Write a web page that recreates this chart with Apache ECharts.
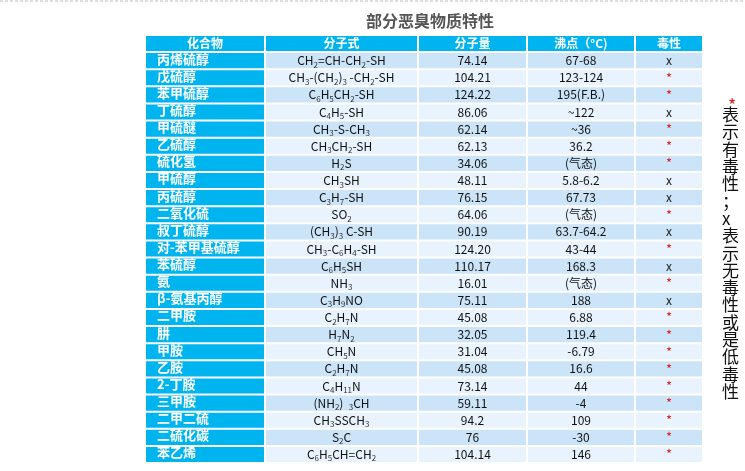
<!DOCTYPE html><html><head><meta charset="utf-8"><script src="https://cdn.jsdelivr.net/npm/echarts@6/dist/echarts.min.js"></script>
<style>html,body{margin:0;padding:0;background:#fff}#c{width:745px;height:471px}</style></head><body><div id="c"></div><script>
const headers=['化合物','分子式','分子量','沸点（°C)','毒性'];
const names=['丙烯硫醇','戊硫醇','苯甲硫醇','丁硫醇','甲硫醚','乙硫醇','硫化氢','甲硫醇','丙硫醇','二氧化硫','叔丁硫醇','对-苯甲基硫醇','苯硫醇','氨','β-氨基丙醇','二甲胺','肼','甲胺','乙胺','2-丁胺','三甲胺','二甲二硫','二硫化碳','苯乙烯'];
const formulas=['CH_2=CH-CH_2-SH','CH_3-(CH_2)_3 -CH_2-SH','C_6H_5CH_2-SH','C_4H_5-SH','CH_3-S-CH_3','CH_3CH_2-SH','H_2S','CH_3SH','C_3H_7-SH','SO_2','(CH_3)_3 C-SH','CH_3-C_6H_4-SH','C_6H_5SH','NH_3','C_3H_9NO','C_2H_7N','H_7N_2','CH_5N','C_2H_7N','C_4H_11N','(NH_2)  _3CH','CH_3SSCH_3','S_2C','C_6H_5CH=CH_2'];
const weights=['74.14','104.21','124.22','86.06','62.14','62.13','34.06','48.11','76.15','64.06','90.19','124.20','110.17','16.01','75.11','45.08','32.05','31.04','45.08','73.14','59.11','94.2','76','104.14'];
const boiling=['67-68','123-124','195(F.B.)','~122','~36','36.2','(气态)','5.8-6.2','67.73','(气态)','63.7-64.2','43-44','168.3','(气态)','188','6.88','119.4','-6.79','16.6','44','-4','109','-30','146'];
const toxicity=['x','*','*','x','*','*','*','x','x','*','x','*','x','*','x','*','*','*','*','*','*','*','*','*'];
const colEdges=[0,120,273,382,490,558];
const rows=['H'].concat(names.map((n,i)=>'r'+i));
function fmt(s){return s.replace(/_(\d+)/g,(m,d)=>'{s|'+d+'}').replace(/([^{}|]+)(?=\{|$)/g,(m)=>m);}
function rich(s){// split into normal/sub segments
  let out='',re=/_(\d+)/g,last=0,m;
  while((m=re.exec(s))){ if(m.index>last) out+='{n|'+s.slice(last,m.index)+'}'; out+='{s|'+m[1]+'}'; last=re.lastIndex;}
  if(last<s.length) out+='{n|'+s.slice(last)+'}'; return out;}
const data=[];
headers.forEach((h,c)=>data.push([c,0,h,'h']));
names.forEach((n,i)=>{
  data.push([0,i+1,n,'name']);
  data.push([1,i+1,formulas[i],'f']);
  data.push([2,i+1,weights[i],'t']);
  data.push([3,i+1,boiling[i],'t']);
  data.push([4,i+1,toxicity[i],'tox']);
});
const chart=echarts.init(document.getElementById('c'));
chart.setOption({
  animation:false,
  title:{text:'部分恶臭物质特性',left:425,top:8,textAlign:'center',textStyle:{fontFamily:'Noto Sans CJK SC',fontSize:16,fontWeight:'bold',color:'#555'}},
  grid:{left:145,right:42,top:35,bottom:8},
  xAxis:{type:'value',min:0,max:558,show:false},
  yAxis:{type:'category',data:rows,inverse:true,show:false},
  graphic:[
    {type:'line',shape:{x1:0,y1:1,x2:745,y2:1},style:{stroke:'#bbb',lineDash:[3,2],lineWidth:1}},
    {type:'text',left:728,top:96,style:{text:'*',fill:'#e02020',font:'18px "Noto Sans CJK SC"'}},
    {type:'text',left:722,top:106,style:{text:'表示有毒性；x表示无毒性或是低毒性'.split('').join('\n'),fill:'#111',font:'17px "Noto Sans CJK SC"',lineHeight:17.3}}
  ],
  series:[{type:'custom',data:data,encode:{x:0,y:1},
    renderItem:function(params,api){
      const c=api.value(0),r=api.value(1),d=data[params.dataIndex];
      const x0=api.coord([colEdges[c],r])[0],x1=api.coord([colEdges[c+1],r])[0];
      const sz=api.size([0,1]);const h=sz[1];const yc=api.coord([0,r])[1];
      const y0=yc-h/2;
      let fill;
      if(d[3]==='h'||d[3]==='name') fill='#00B4F0';
      else fill=(r%2===1)?'#CCE4F8':'#E8F3FD';
      const kids=[{type:'rect',shape:{x:x0+1,y:y0+1,width:x1-x0-2,height:h-2},style:{fill:fill}}];
      const base={fontFamily:'Noto Sans CJK SC',fontSize:12};
      if(d[3]==='h'){
        kids.push({type:'text',style:Object.assign({},base,{text:d[2],x:(x0+x1)/2,y:yc,align:'center',verticalAlign:'middle',fill:'#fff',fontWeight:'bold'})});
      }else if(d[3]==='name'){
        kids.push({type:'text',style:Object.assign({},base,{text:d[2],x:x0+12,y:yc-2,align:'left',verticalAlign:'middle',fill:'#fff',fontWeight:'bold',fontSize:13})});
      }else if(d[3]==='f'){
        kids.push({type:'text',style:{text:rich(d[2]),x:(x0+x1)/2,y:yc,align:'center',verticalAlign:'middle',
          rich:{n:{fontFamily:'Noto Sans CJK SC',fontSize:12,fill:'#111',lineHeight:16,verticalAlign:'middle'},
                s:{fontFamily:'Noto Sans CJK SC',fontSize:8,fill:'#333',lineHeight:16,verticalAlign:'bottom',padding:[6,0,0,0]}}}});
      }else if(d[3]==='tox'){
        kids.push({type:'text',style:Object.assign({},base,{text:d[2],x:(x0+x1)/2,y:yc,align:'center',verticalAlign:'middle',fill:d[2]==='*'?'#e02020':'#222',fontSize:d[2]==='*'?13:12})});
      }else{
        kids.push({type:'text',style:Object.assign({},base,{text:d[2],x:(x0+x1)/2,y:yc,align:'center',verticalAlign:'middle',fill:'#111'})});
      }
      return {type:'group',children:kids};
    }}]
});
</script></body></html>
